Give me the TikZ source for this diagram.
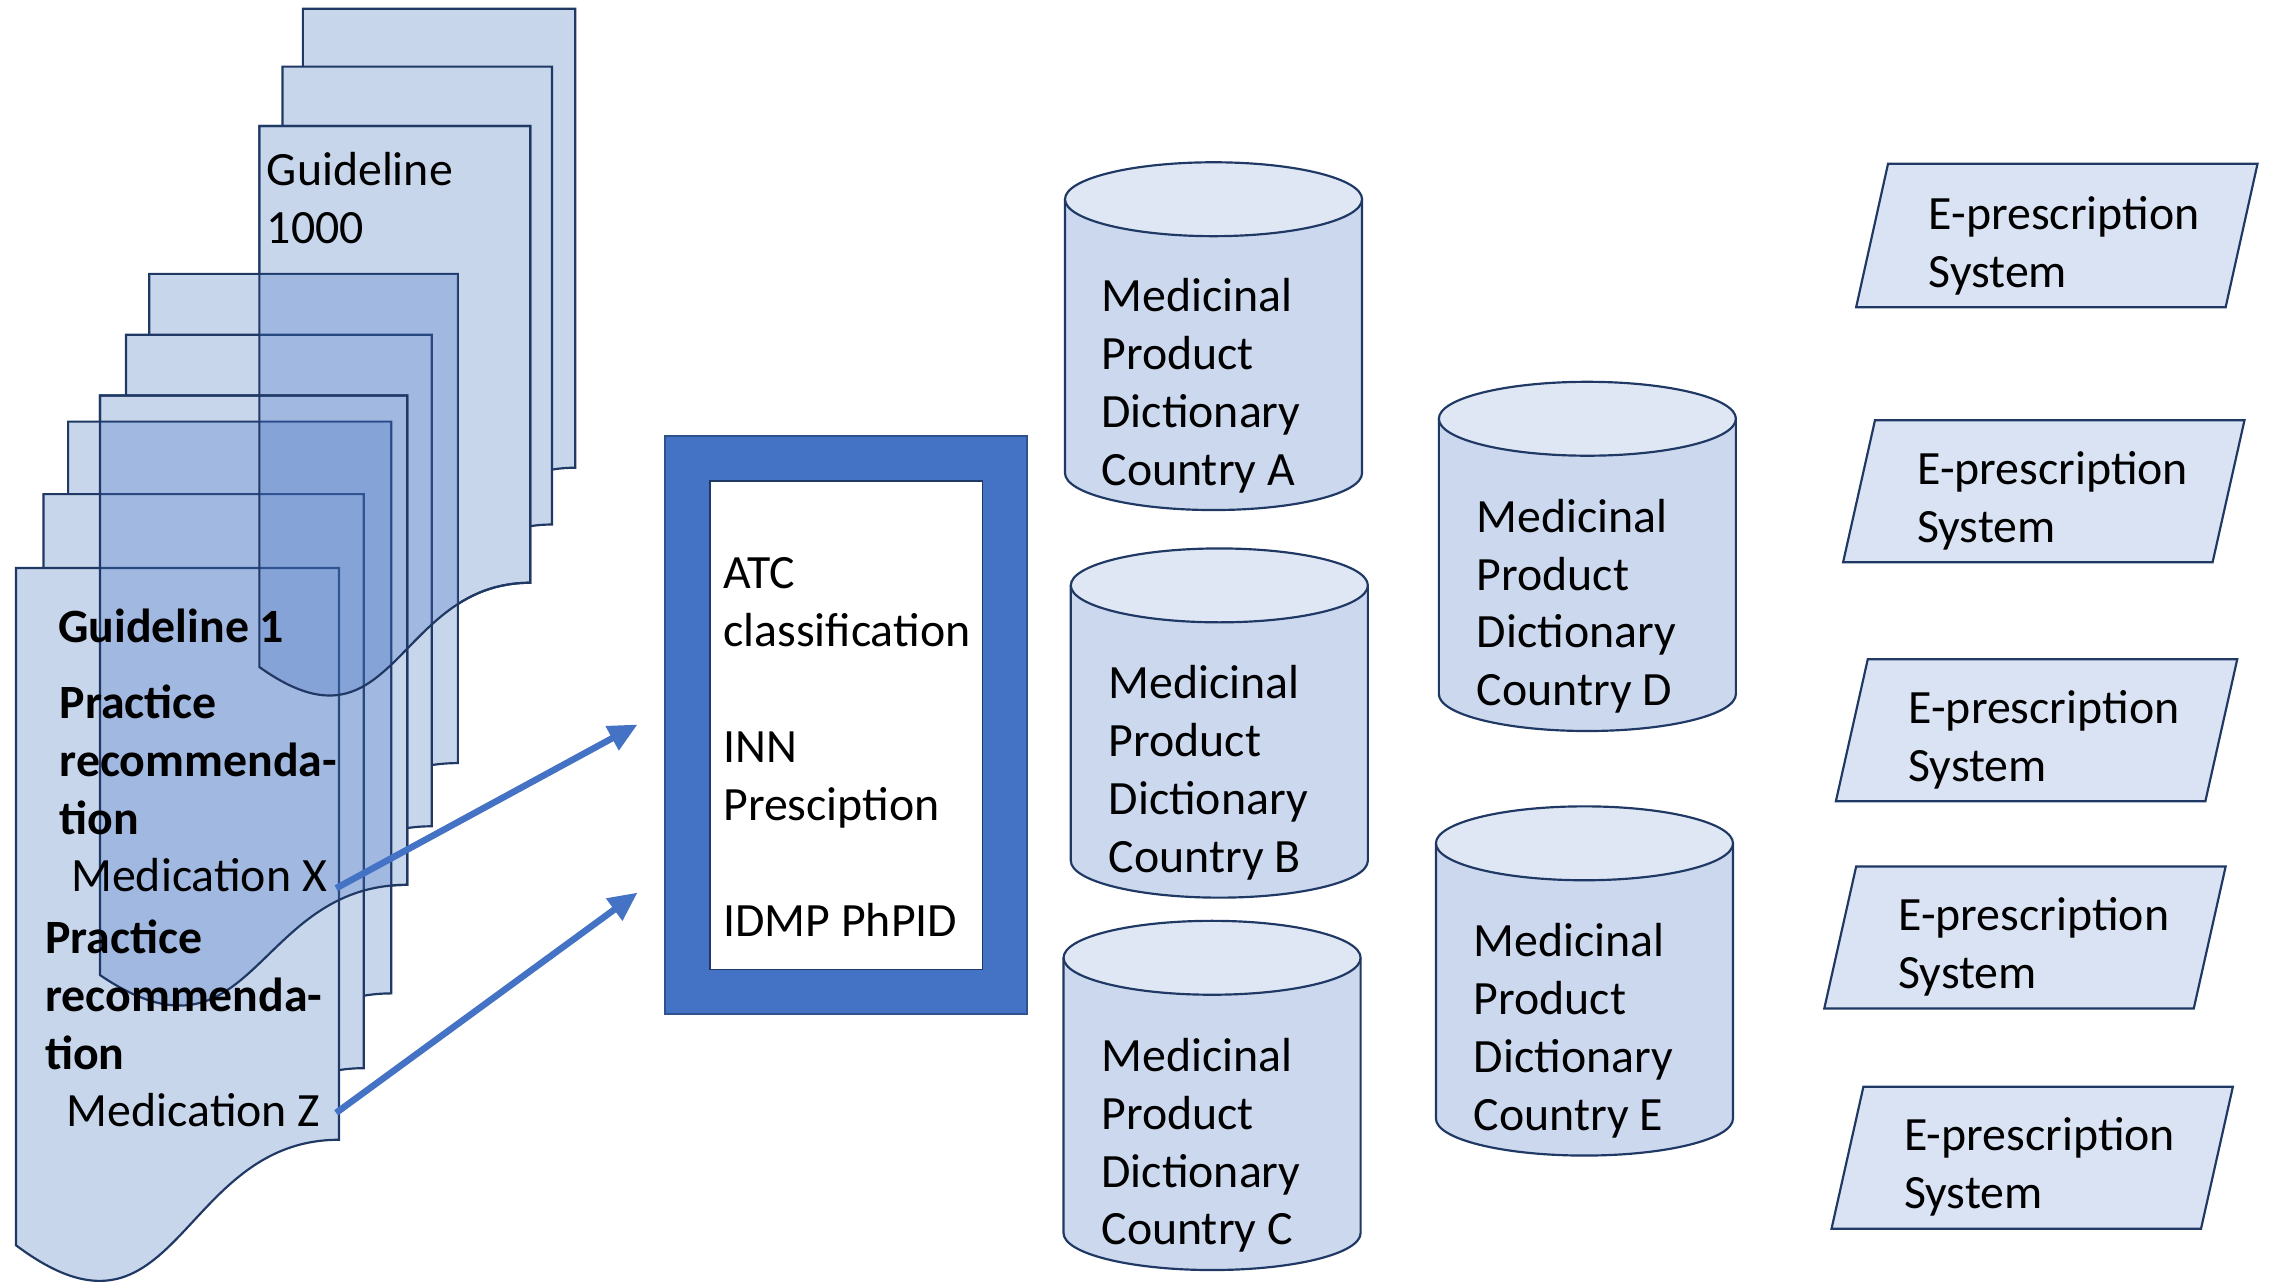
\documentclass[tikz,border=0pt]{standalone}
\usepackage{fontspec}
\setmainfont{Carlito}
\usetikzlibrary{arrows.meta}
\definecolor{acc}{HTML}{4472C4}
\definecolor{navy}{HTML}{1F3864}
\definecolor{docfill}{RGB}{200,214,236}
\definecolor{canbody}{RGB}{203,216,238}
\definecolor{cantop}{RGB}{223,231,245}
\definecolor{parfill}{RGB}{218,227,243}
\definecolor{boxedge}{HTML}{2F528F}
% document shape: left x, top y, width, height (y grows downward)
\newcommand\docshape[4]{(#1,#2) -- (#1+#3,#2) -- (#1+#3,#2+0.802*#4) .. controls (#1+0.5*#3,#2+0.802*#4) and (#1+0.5*#3,#2+1.12*#4) .. (#1,#2+0.95*#4) -- cycle}
% cylinder: left x, top centre y, bottom centre y
\newcommand\drawcan[3]{%
  \fill[canbody] (#1,#2) -- (#1,#3) arc[start angle=180,end angle=0,x radius=102.5,y radius=25.5] -- (#1+205,#2) -- cycle;
  \draw[outl] (#1,#2) -- (#1,#3) arc[start angle=180,end angle=0,x radius=102.5,y radius=25.5] -- (#1+205,#2);
  \draw[outl,fill=cantop] (#1+102.5,#2) ellipse[x radius=102.5,y radius=25.5];}
% parallelogram: bottom-left x, top y, bottom y
\newcommand\drawpara[3]{\draw[outl,fill=parfill] (#1,#3) -- (#1+255,#3) -- (#1+277,#2) -- (#1+22,#2) -- cycle;}
\begin{document}
\begin{tikzpicture}[x=1pt,y=-1pt,
  docsty/.style={fill=docfill,draw=navy,line width=1.5pt},
  outl/.style={draw=navy,line width=1.5pt},
  tint/.style={fill=acc,fill opacity=0.29},
  txt/.style={font=\fontsize{33}{40}\selectfont,align=left,inner sep=0pt,anchor=north west,text=black},
  btxt/.style={txt,font=\fontsize{33}{40}\selectfont\bfseries},
  flow/.style={draw=acc,line width=4.5pt,-{Triangle[length=20pt,width=18pt]}}]
\useasboundingbox (0,0) rectangle (1568,885);
% upper stack of guidelines
\path[docsty] \docshape{209}{6}{188}{395};
\path[docsty] \docshape{195}{46}{186}{394};
\path[docsty] \docshape{179}{87}{187}{393};
\node[txt] (g1000) at (184,100) {\strut Guideline\\1000};
% lower stack of guidelines
\path[docsty] \docshape{103}{189}{213}{421};
\path[docsty] \docshape{87}{231}{211}{423};
\path[docsty] \docshape{69}{273}{212}{421};
\path[docsty] \docshape{47}{291}{223}{492};
\path[docsty] \docshape{30}{341}{221}{494};
\path[docsty] \docshape{11}{392}{223}{492};
% see-through overlaps
\begin{scope}
  \clip \docshape{179}{87}{187}{393};
  \fill[tint] \docshape{103}{189}{213}{421} \docshape{87}{231}{211}{423} \docshape{69}{273}{212}{421} \docshape{47}{291}{223}{492} \docshape{30}{341}{221}{494} \docshape{11}{392}{223}{492};
\end{scope}
\begin{scope}
  \clip \docshape{69}{273}{212}{421};
  \fill[tint] \docshape{47}{291}{223}{492} \docshape{30}{341}{221}{494} \docshape{11}{392}{223}{492};
\end{scope}
\draw[outl] \docshape{69}{273}{212}{421};
\draw[outl] \docshape{179}{87}{187}{393};
% front guideline text
\node[btxt] (g1) at (40,415) {\strut Guideline 1};
\node[btxt] (pr1) at (41,468) {\strut Practice\\recommenda-\\tion};
\node[txt] (medx) at (49,587) {\strut Medication X};
\node[btxt] (pr2) at (31,630) {\strut Practice\\recommenda-\\tion};
\node[txt] (medz) at (46,749) {\strut Medication Z};
% central box
\node[draw=boxedge,fill=acc,line width=1.5pt,minimum width=250pt,minimum height=399pt,inner sep=0pt] (outer) at (584,500.5) {};
\node[draw=navy,fill=white,line width=1.2pt,minimum width=188pt,minimum height=337pt,inner sep=0pt] (inner) at (outer.center) {};
\node[txt] (boxtxt) at (499,378) {\strut ATC\\classification\\[40pt]INN\\Presciption\\[40pt]IDMP PhPID};
% arrows
\coordinate (ax1) at (232,613);
\coordinate (ax2) at (440,500);
\coordinate (az1) at (232,768);
\coordinate (az2) at (440,616);
\draw[flow] (ax1) -- (ax2);
\draw[flow] (az1) -- (az2);
% medicinal product dictionaries
\drawcan{735}{137.5}{326.5}
\node[txt] (cA) at (760,187) {\strut Medicinal\\Product\\Dictionary\\Country A};
\drawcan{739}{404}{594}
\node[txt] (cB) at (765,454) {\strut Medicinal\\Product\\Dictionary\\Country B};
\drawcan{734}{661}{851}
\node[txt] (cC) at (760,711) {\strut Medicinal\\Product\\Dictionary\\Country C};
\drawcan{993}{289}{479}
\node[txt] (cD) at (1019,339) {\strut Medicinal\\Product\\Dictionary\\Country D};
\drawcan{991}{582}{772}
\node[txt] (cE) at (1017,632) {\strut Medicinal\\Product\\Dictionary\\Country E};
% e-prescription systems
\drawpara{1281}{113}{212}
\node[txt] (e1) at (1331,130) {\strut E-prescription\\System};
\drawpara{1272}{290}{388}
\node[txt] (e2) at (1323,306) {\strut E-prescription\\System};
\drawpara{1267}{455}{553}
\node[txt] (e3) at (1317,471) {\strut E-prescription\\System};
\drawpara{1259}{598}{696}
\node[txt] (e4) at (1310,614) {\strut E-prescription\\System};
\drawpara{1264}{750}{848}
\node[txt] (e5) at (1314,766) {\strut E-prescription\\System};
\end{tikzpicture}
\end{document}
